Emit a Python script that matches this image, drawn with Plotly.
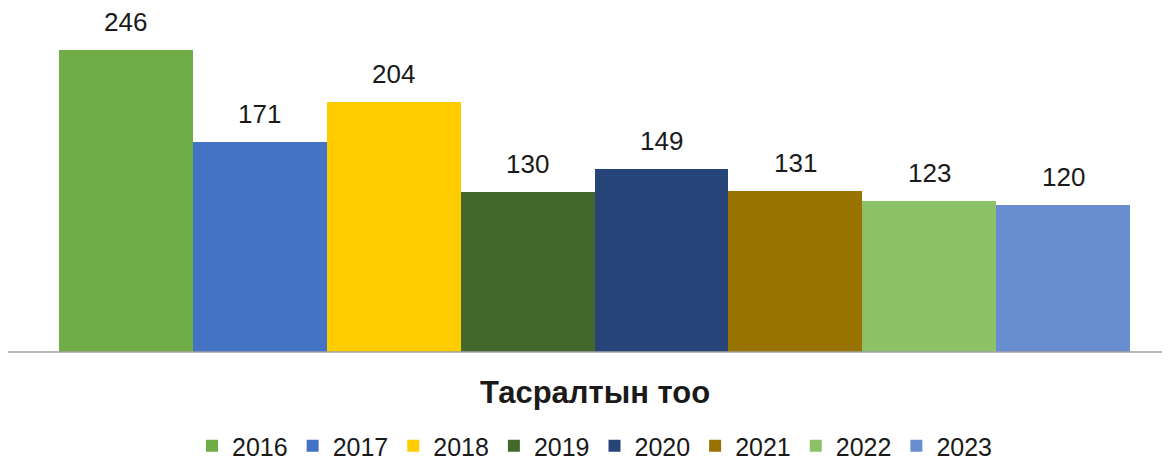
import plotly.graph_objects as go

# datos
anios = ["2016", "2017", "2018", "2019", "2020", "2021", "2022", "2023"]
valores = [246, 171, 204, 130, 149, 131, 123, 120]
colores = ["#70AD47", "#4472C4", "#FFCC00", "#43682B",
           "#264478", "#997300", "#8CC168", "#698ED0"]
titulo_eje = "Тасралтын тоо"

fuente = "Liberation Sans, Arial, sans-serif"

# la pagina html deja 8px de margen en el body
ANCHO, ALTO = 1162, 453

fig = go.Figure()
for anio, val, col in zip(anios, valores, colores):
    fig.add_trace(go.Bar(
        x=[anio], y=[val], name=anio,
        marker=dict(color=col, line=dict(width=0)),
        hoverinfo="y"
    ))

# etiquetas de valor encima de cada barra (x = indice de categoria)
for i, val in enumerate(valores):
    fig.add_annotation(
        x=i, y=val, text=str(val), showarrow=False,
        yanchor="middle", yshift=28,
        font=dict(family=fuente, size=26, color="#1a1a1a")
    )

# titulo del eje (categoria)
fig.add_annotation(
    x=0.5, y=0, xref="paper", yref="paper", text="<b>" + titulo_eje + "</b>",
    showarrow=False, yanchor="middle", yshift=-40,
    font=dict(family=fuente, size=31, color="#1a1a1a")
)

# linea base que se extiende mas alla de las barras
fig.add_shape(
    type="line", xref="paper", yref="paper",
    x0=-51 / 1071, x1=1 + 40 / 1071, y0=0, y1=0,
    line=dict(color="#A0A0A0", width=1.5)
)

fig.update_layout(
    width=ANCHO, height=ALTO,
    margin=dict(l=51, r=40, t=0, b=109),
    plot_bgcolor="white", paper_bgcolor="white",
    barmode="stack", bargap=0,
    showlegend=True,
    legend=dict(
        orientation="h", traceorder="normal",
        x=0.5, xanchor="center",
        yref="container", y=1 - 438 / ALTO, yanchor="middle",
        font=dict(family=fuente, size=25, color="#1a1a1a"),
        itemclick=False
    ),
    font=dict(family=fuente)
)
fig.update_xaxes(type="category", range=[-0.5, len(anios) - 0.5],
                 showticklabels=False, showline=False,
                 showgrid=False, zeroline=False, ticks="")
fig.update_yaxes(range=[0, 280.2], visible=False)

fig.write_html("out.html")
